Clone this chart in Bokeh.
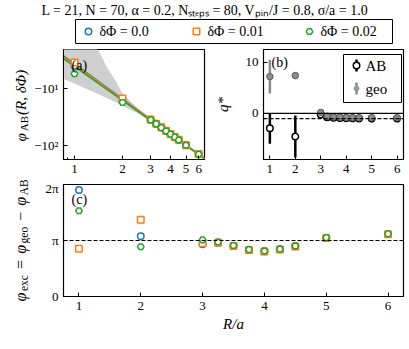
import math
from bokeh.plotting import figure
from bokeh.models import Range1d, FixedTicker, Label, Span, PrintfTickFormatter
from bokeh.layouts import column, row
from bokeh.embed import file_html
from bokeh.resources import INLINE
from bokeh.core.properties import value

# ---------------- data ----------------
R_vals = [1, 2, 3, 3.25, 3.5, 3.75, 4, 4.25, 4.5, 5, 6]
series_labels = ["δΦ = 0.0", "δΦ = 0.01", "δΦ = 0.02"]

# panel (a): phi_AB(R, dPhi)
phiAB_d0 = [-4.0, -16.2, -35.5, -41.7, -48.4, -55.5, -63.2, -71.3, -80.0, -98.8, -142.0]
phiAB_d1 = [-3.5, -15.0, -35.0, -41.4, -48.0, -55.2, -63.0, -71.0, -79.6, -98.5, -141.5]
phiAB_d2 = [-5.5, -17.6, -35.6, -41.8, -48.5, -55.6, -63.3, -71.4, -80.1, -99.0, -142.2]
fit_A = [-3.7, -3.85, -4.1]
fit_b = [2.04, 2.015, 1.985]
band_R = [0.85, 1.0, 1.2, 1.414, 1.6, 1.8, 2.0, 2.5, 3.0, 4.0, 5.0, 6.55]
band_upper = [-0.8, -1.0, -1.4, -2.15, -4.3, -7.2, -12.3, -22.5, -33.5, -61.0, -96.0, -162.0]
band_lower = [-6.8, -8.2, -10.3, -12.6, -14.8, -17.2, -20.0, -27.5, -37.5, -65.0, -102.0, -176.0]

# panel (b): q*
q_AB = [-2.9, -4.5, -0.2, -0.75, -0.85, -0.9, -0.95, -0.95, -1.0, -1.0, -1.0]
q_AB_err = [3.0, 4.1, 0.3, 0.15, 0.1, 0.1, 0.1, 0.1, 0.1, 0.1, 0.1]
q_geo = [7.2, 7.4, 0.2, -0.55, -0.7, -0.75, -0.8, -0.8, -0.85, -0.85, -0.85]
q_geo_err = [3.3, 0.6, 0.3, 0.15, 0.1, 0.1, 0.1, 0.1, 0.1, 0.1, 0.1]

# panel (c): phi_exc
exc_d0 = [5.98, 3.38, 2.93, 3.02, 2.84, 2.62, 2.54, 2.65, 2.82, 3.29, 3.50]
exc_d1 = [2.68, 4.30, 2.99, 3.01, 2.83, 2.61, 2.53, 2.64, 2.81, 3.28, 3.49]
exc_d2 = [4.81, 2.79, 3.18, 3.06, 2.86, 2.63, 2.55, 2.66, 2.83, 3.30, 3.51]

x_ticks = [1, 2, 3, 4, 5, 6]

# ---------------- style ----------------
COLORS = ["#1f77b4", "#ff7f0e", "#2ca02c"]
MARKERS = ["circle", "square", "hex"]
MSIZE = [6.5, 6.5, 6.5]
FONT = "Liberation Serif"
W = 409

def style(p):
    p.outline_line_color = "black"
    p.outline_line_width = 1.2
    p.grid.visible = False
    p.background_fill_color = "white"
    p.border_fill_color = "white"
    for ax in p.axis:
        ax.major_tick_in = 4
        ax.major_tick_out = 0
        ax.minor_tick_in = 2
        ax.minor_tick_out = 0
        ax.axis_line_color = "black"
        ax.major_label_text_font = FONT
        ax.major_label_text_font_size = "13px"
        ax.major_label_text_color = "black"
        ax.major_label_standoff = 5

def blank(width, height, y_top, y_bot):
    p = figure(width=width, height=height, x_range=Range1d(0, width), y_range=Range1d(y_bot, y_top),
               toolbar_location=None, output_backend="svg", min_border=0,
               x_axis_location=None, y_axis_location=None)
    p.grid.visible = False
    p.outline_line_color = None
    p.background_fill_color = "white"
    p.border_fill_color = "white"
    return p

def mk_map(p0, p1, v0, v1, log=False):
    if log:
        a, b = math.log(v0), math.log(v1)
        return lambda p: math.exp(a + (p - p0) / (p1 - p0) * (b - a))
    return lambda p: v0 + (p - p0) / (p1 - p0) * (v1 - v0)

CW = {'φ': 0.62, 'A': 0.72, 'B': 0.67, '(': 0.34, ')': 0.34, 'R': 0.62, ',': 0.26,
      ' ': 0.26, 'δ': 0.52, 'Φ': 0.78, 'e': 0.45, 'x': 0.5, 'c': 0.45, '=': 0.57,
      'g': 0.5, 'o': 0.5, '−': 0.57}

def tw(s, size):
    return sum(CW.get(ch, 0.5) for ch in s) * size

def rot_text(p, base_x, y_start, pieces):
    # pieces: (text, size, style, dx, gap_before, gap_after); reads bottom -> top
    py = y_start
    for text, size, fstyle, dx, g0, g1 in pieces:
        py -= g0
        p.text(x=[base_x + dx], y=[py], text=[text], angle=math.pi / 2,
               text_align="left", text_baseline="alphabetic",
               text_font=value(FONT), text_font_size=f"{size}px",
               text_font_style=fstyle, text_color="black")
        py -= tw(text, size) + g1

def label(p, x, y, text, size=14, fstyle="normal", align="left", baseline="middle"):
    p.add_layout(Label(x=x, y=y, text=text, text_align=align, text_baseline=baseline,
                       text_font=FONT, text_font_size=f"{size}px", text_font_style=fstyle,
                       text_color="black"))

# ---------------- header (title + legend) ----------------
HEAD_H = 48
ph = blank(W, HEAD_H, 0, HEAD_H)
title = "L = 21, N = 70, α = 0.2, Nₛₜₑₚₛ = 80, Vₚᵢₙ/J = 0.8, σ/a = 1.0"
ph.text(x=[204.5], y=[9.5], text=[title], text_align="center", text_baseline="middle",
        text_font=value(FONT), text_font_size="14px", text_color="black")
ph.quad(left=[75], right=[392], top=[19], bottom=[43], fill_color="white",
        line_color="black", line_width=1)
leg_mx = [88, 196, 309]
for i in range(3):
    ph.scatter([leg_mx[i]], [31], marker=MARKERS[i], size=MSIZE[i], fill_color="white",
               line_color=COLORS[i], line_width=1.5)
    ph.text(x=[leg_mx[i] + 11], y=[31], text=[series_labels[i]], text_align="left",
            text_baseline="middle", text_font=value(FONT), text_font_size="14px",
            text_color="black")

TOP_H = 132      # page y 48..180
BOT_H = 169      # page y 180..349
LAB_W = 30

# ---------------- y-label strip (page y 48..349) ----------------
ls = blank(LAB_W, TOP_H + BOT_H, HEAD_H, HEAD_H + TOP_H + BOT_H)
rot_text(ls, 20, 141, [("φ", 15, "italic", 0, 0, 1), ("AB", 11, "normal", 3.5, 0, 1),
                       ("(R, δΦ)", 15, "italic", 0, 0, 0)])
rot_text(ls, 20, 301, [("φ", 16, "italic", 0, 0, 0.5), ("exc", 11.5, "normal", 3.5, 0, 0),
                       ("=", 16, "normal", 0, 6, 6), ("φ", 16, "italic", 0, 0, 0.5),
                       ("geo", 11.5, "normal", 3.5, 0, 0), ("−", 16, "normal", 0, 6, 6),
                       ("φ", 16, "italic", 0, 0, 0.5), ("AB", 11.5, "normal", 3.5, 0, 0)])

# ---------------- panel (a) ----------------
pa = figure(width=177, height=TOP_H, x_axis_type="log", y_axis_type="log",
            x_range=Range1d(0.853, 6.53), y_range=Range1d(176, 2.07),
            toolbar_location=None, output_backend="svg",
            min_border_left=33, min_border_right=3, min_border_top=1, min_border_bottom=21)
style(pa)
pa.xaxis.ticker = FixedTicker(ticks=x_ticks, minor_ticks=[0.9])
pa.xaxis.formatter = PrintfTickFormatter(format="%d")
pa.yaxis.ticker = FixedTicker(ticks=[10, 100], minor_ticks=[])
pa.yaxis.major_label_overrides = {10: "−10¹", 100: "−10²"}

pa.varea(x=band_R, y1=[-v for v in band_upper], y2=[-v for v in band_lower],
         fill_color="#cfcfcf", fill_alpha=1.0)
xl = [0.853, 6.53]
for i in range(3):
    pa.line(x=xl, y=[-fit_A[i] * x ** fit_b[i] for x in xl], line_color=COLORS[i], line_width=1.5)
for i, ser in enumerate([phiAB_d0, phiAB_d1, phiAB_d2]):
    pa.scatter(R_vals, [-v for v in ser], marker=MARKERS[i], size=MSIZE[i], fill_color="white",
               line_color=COLORS[i], line_width=1.5)

axm = mk_map(63, 204, 0.853, 6.53, log=True)
aym = mk_map(159, 49, 176, 2.07, log=True)
label(pa, axm(71), aym(65), "(a)")

# ---------------- panel (b) ----------------
pb = figure(width=202, height=TOP_H, x_range=Range1d(0.75, 6.25), y_range=Range1d(-9.0, 12.5),
            toolbar_location=None, output_backend="svg",
            min_border_left=56, min_border_right=6, min_border_top=1, min_border_bottom=21)
style(pb)
pb.xaxis.ticker = FixedTicker(ticks=x_ticks)
pb.yaxis.ticker = FixedTicker(ticks=[0, 10])
pb.yaxis.axis_label = "q*"
pb.yaxis.axis_label_text_font = FONT
pb.yaxis.axis_label_text_font_style = "italic"
pb.yaxis.axis_label_text_font_size = "15px"
pb.yaxis.axis_label_text_color = "black"
pb.yaxis.axis_label_standoff = 12
pb.add_layout(Span(location=0, dimension="width", line_color="black", line_width=1.2))
pb.add_layout(Span(location=-1, dimension="width", line_color="black", line_width=1.2,
                   line_dash="4 2"))
pb.segment(x0=R_vals, y0=[q - e for q, e in zip(q_AB, q_AB_err)], x1=R_vals,
           y1=[q + e for q, e in zip(q_AB, q_AB_err)], line_color="black", line_width=2.5)
pb.scatter(R_vals, q_AB, marker="circle", size=6.5, fill_color="white", line_color="black",
           line_width=1.5)
pb.segment(x0=R_vals, y0=[q - e for q, e in zip(q_geo, q_geo_err)], x1=R_vals,
           y1=[q + e for q, e in zip(q_geo, q_geo_err)], line_color="#8a8a8a", line_width=2.5)
pb.scatter(R_vals, q_geo, marker="circle", size=6.5, fill_color="#8c8c8c", line_color="#5a5a5a",
           line_width=1.0)

bxm = mk_map(263, 403, 0.75, 6.25)
bym = mk_map(159, 49, -9.0, 12.5)
label(pb, bxm(271), bym(62), "(b)")
# legend of (b)
pb.quad(left=[bxm(343)], right=[bxm(401)], top=[bym(54)], bottom=[bym(102)],
        fill_color="white", line_color="black", line_width=1)
pb.segment(x0=[bxm(356)], y0=[bym(59)], x1=[bxm(356)], y1=[bym(71)], line_color="black",
           line_width=2.5)
pb.scatter([bxm(356)], [bym(65)], marker="circle", size=6.5, fill_color="white",
           line_color="black", line_width=1.5)
label(pb, bxm(365), bym(65), "AB", size=15)
pb.segment(x0=[bxm(356)], y0=[bym(82)], x1=[bxm(356)], y1=[bym(94)], line_color="#8a8a8a",
           line_width=2.5)
pb.scatter([bxm(356)], [bym(88)], marker="circle", size=5, fill_color="#9a9a9a",
           line_color="#9a9a9a", line_width=1.0)
label(pb, bxm(365), bym(88), "geo", size=15)

# ---------------- panel (c) ----------------
pc = figure(width=W - LAB_W, height=BOT_H, x_range=Range1d(0.75, 6.25),
            y_range=Range1d(0, 2 * math.pi), toolbar_location=None, output_backend="svg",
            min_border_left=33, min_border_right=6, min_border_top=4, min_border_bottom=53)
style(pc)
pc.xaxis.ticker = FixedTicker(ticks=x_ticks)
pc.yaxis.ticker = FixedTicker(ticks=[0, math.pi, 2 * math.pi])
pc.yaxis.major_label_overrides = {0: "0", math.pi: "π", 2 * math.pi: "2π"}
pc.xaxis.axis_label = "R/a"
pc.xaxis.axis_label_text_font = FONT
pc.xaxis.axis_label_text_font_style = "italic"
pc.xaxis.axis_label_text_font_size = "15px"
pc.xaxis.axis_label_text_color = "black"
pc.xaxis.axis_label_standoff = 3
pc.add_layout(Span(location=math.pi, dimension="width", line_color="black", line_width=1.2,
                   line_dash="4 2"))
for i, ser in enumerate([exc_d0, exc_d1, exc_d2]):
    pc.scatter(R_vals, ser, marker=MARKERS[i], size=MSIZE[i], fill_color="white",
               line_color=COLORS[i], line_width=1.5)

cxm = mk_map(63, 403, 0.75, 6.25)
cym = mk_map(296, 184, 0, 2 * math.pi)
label(pc, cxm(71), cym(199), "(c)")

layout = column(ph, row(ls, column(row(pa, pb), pc)))
open("out.html", "w").write(file_html(layout, INLINE))
